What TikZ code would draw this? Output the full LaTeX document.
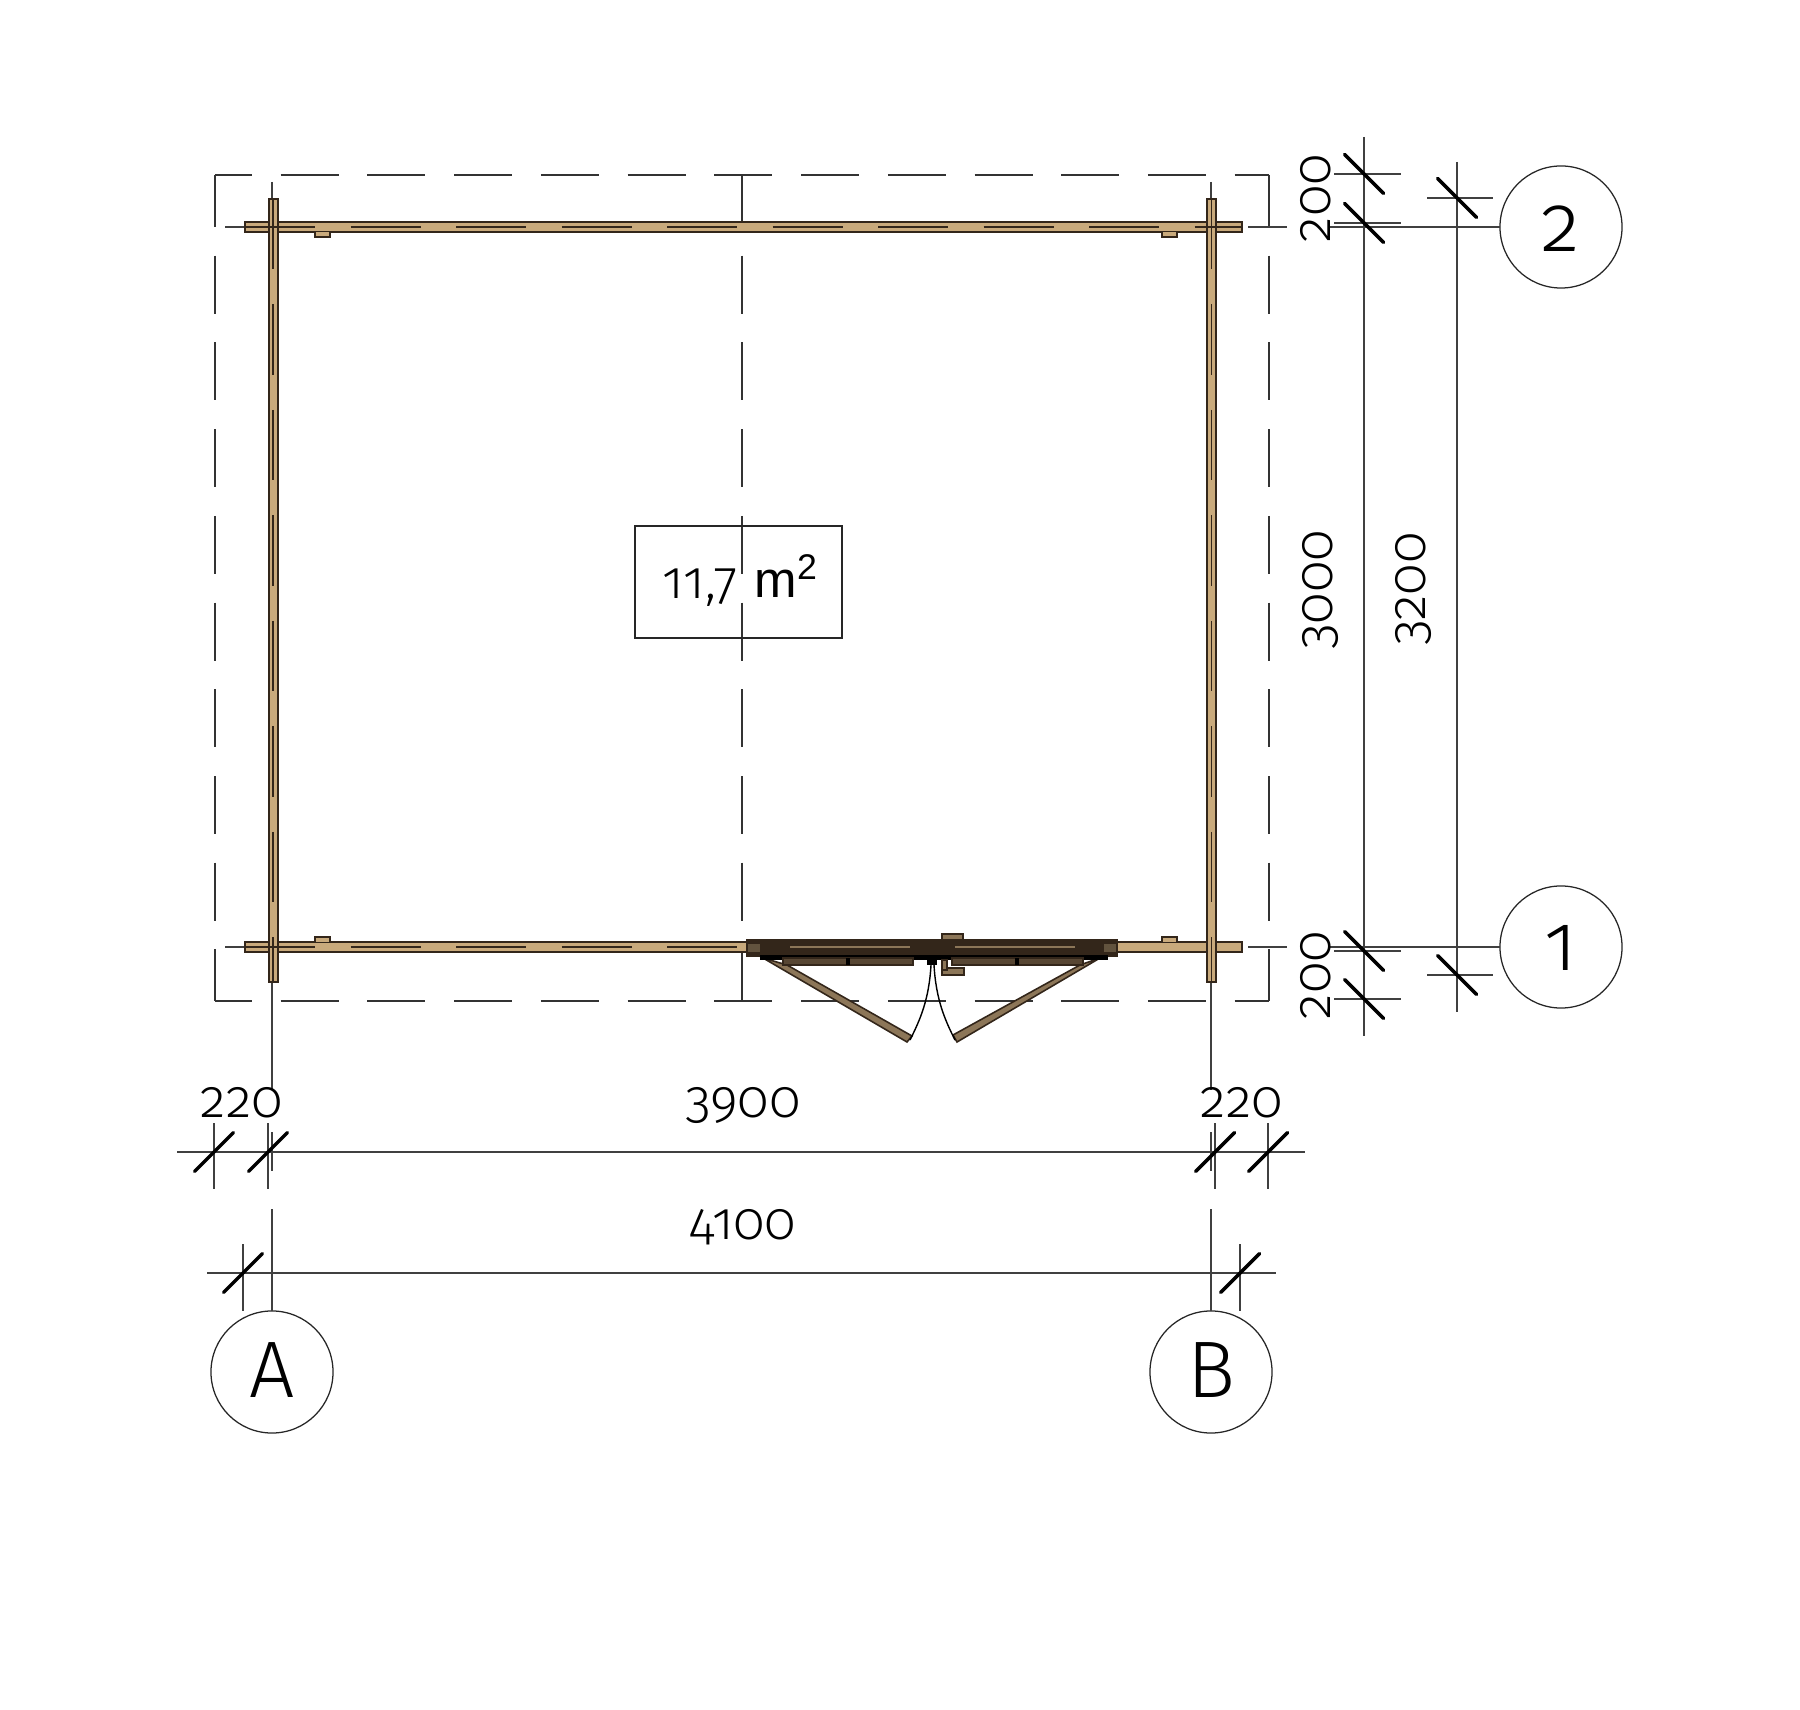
\documentclass[tikz,border=0pt]{standalone}
\usepackage{fontspec}
\usetikzlibrary{positioning,calc}
\newfontfamily\dimfont[Numbers=OldStyle]{Fira Sans Light}
\newfontfamily\areafont{Liberation Sans}
\definecolor{woodlight}{HTML}{C9AA7C}
\definecolor{wooddark}{HTML}{33261A}
\definecolor{woodleaf}{HTML}{8C7658}
\tikzset{dimline/.style={draw=black!75, line width=0.36pt}}
\tikzset{slash/.style={draw=black, line width=1pt, line cap=round}}
\tikzset{outline/.style={draw=black!80, line width=0.65pt}}
\tikzset{overhangh/.style={outline, dash pattern=on 16.5pt off 8.16pt, dash phase=5.97pt}}
\tikzset{overhangv/.style={outline, dash pattern=on 16.5pt off 8.16pt, dash phase=1.71pt}}
\tikzset{gridcircle/.style={circle, draw=black!85, line width=0.36pt, minimum size=1.22cm, inner sep=0, outer sep=0}}
\tikzset{dimlabel/.style={inner sep=0, font=\dimfont\fontsize{15}{15}\selectfont}}
\tikzset{gridlabel/.style={inner sep=0, font=\dimfont\fontsize{22.8}{22.8}\selectfont}}
\tikzset{wall/.style={draw=wooddark, line width=0.45pt, fill=woodlight}}
\tikzset{leaf/.style={draw=wooddark, line width=0.45pt, fill=woodleaf}}
\tikzset{wallcore/.style={draw=wooddark, line width=0.55pt, dash pattern=on 20pt off 10pt}}
\begin{document}
\begin{tikzpicture}[x=0.01cm, y=-0.01cm]
	\useasboundingbox (0,0) rectangle (1800,1710);
	% overhang outline
	\draw[overhangh] (215,175) -- (1269,175);
	\draw[overhangh] (215,1001) -- (1269,1001);
	\foreach \xpos in {215,742,1269}
		\draw[overhangv] (\xpos,175) -- (\xpos,1001);
	% area box
	\node[draw=black!85, line width=0.38pt, minimum width=2.07cm, minimum height=1.12cm, inner sep=0] (areabox) at (738.5,582) {};
	\node[dimlabel, anchor=base west] (areanum) at (662,599) {11,7};
	\node[inner sep=0, anchor=base west, font=\areafont\fontsize{14.5}{15}\selectfont] (areaunit) at (754,598) {m\textsuperscript{2}};
	% grid bubbles
	\node[gridcircle] (grid2) at (1561,227) {};
	\node[gridcircle] (grid1) at (1561,947) {};
	\node[gridcircle] (gridA) at (272,1372) {};
	\node[gridcircle] (gridB) at (1211,1372) {};
	\node[gridlabel, anchor=base] (lab2) at (1561,252) {2};
	\node[gridlabel, anchor=base] (lab1) at (1561,971) {1};
	\node[gridlabel, anchor=base] (labA) at (272,1397) {A};
	\node[gridlabel, anchor=base] (labB) at (1211,1397) {B};
	% grid lines
	\coordinate (end2) at (1328,227);
	\coordinate (end1) at (1328,947);
	\coordinate (endA) at (272,1209);
	\coordinate (endB) at (1211,1209);
	\draw[dimline] (grid2) -- (end2);
	\draw[dimline] (grid1) -- (end1);
	\draw[dimline] (gridA) -- (endA);
	\draw[dimline] (gridB) -- (endB);
	\foreach \xpos in {272,1211} {
		\draw[dimline] (\xpos,182) -- (\xpos,1090);
		\draw[dimline] (\xpos,1132) -- (\xpos,1171);
	}
	\foreach \ypos in {227,947} {
		\draw[dimline] (225,\ypos) -- (245,\ypos);
		\draw[dimline] (1248,\ypos) -- (1287,\ypos);
	}
	% dimension lines, right
	\draw[dimline] (1364,137) -- (1364,1036);
	\draw[dimline] (1457,162) -- (1457,1012);
	\foreach \ypos in {174,223,951,999} {
		\draw[dimline] (1334,\ypos) -- (1401,\ypos);
		\draw[slash] (1344.5,\ypos-19.5) -- (1383.5,\ypos+19.5);
	}
	\foreach \ypos in {198,975} {
		\draw[dimline] (1427,\ypos) -- (1493,\ypos);
		\draw[slash] (1437.5,\ypos-19.5) -- (1476.5,\ypos+19.5);
	}
	% dimension lines, bottom
	\draw[dimline] (177,1152) -- (1305,1152);
	\draw[dimline] (207,1273) -- (1276,1273);
	\foreach \xpos in {214,268,1215,1268} {
		\draw[dimline] (\xpos,1123) -- (\xpos,1189);
		\draw[slash] (\xpos-19.5,1171.5) -- (\xpos+19.5,1132.5);
	}
	\foreach \xpos in {243,1240} {
		\draw[dimline] (\xpos,1244) -- (\xpos,1311);
		\draw[slash] (\xpos-19.5,1292.5) -- (\xpos+19.5,1253.5);
	}
	% dimension texts
	\node[dimlabel] (dimA) at (242,1103) {220};
	\node[dimlabel] (dimB) at (1242,1103) {220};
	\node[dimlabel] (dimC) at (743,1105) {3900};
	\node[dimlabel] (dimD) at (743,1227) {4100};
	\node[dimlabel, rotate=90] (dimE) at (1316,198) {200};
	\node[dimlabel, rotate=90] (dimF) at (1316,975) {200};
	\node[dimlabel, rotate=90] (dimG) at (1320,590) {3000};
	\node[dimlabel, rotate=90] (dimH) at (1413,589) {3200};
	% walls
	\draw[wall] (245,222) rectangle (1242,232);
	\draw[wall] (245,942) rectangle (1242,952);
	\draw[wall] (269,199) rectangle (278,982);
	\draw[wall] (1207,199) rectangle (1216,982);
	\draw[wallcore] (245,227) -- (1242,227);
	\draw[wallcore] (245,947) -- (740,947);
	\draw[wallcore] (273,199) -- (273,982);
	\draw[wallcore] (1211.5,199) -- (1211.5,982);
	\foreach \xpos in {315,1162} {
		\draw[wall] (\xpos,232) -- (\xpos,237) -- (\xpos+15,237) -- (\xpos+15,232);
		\draw[wall] (\xpos,942) -- (\xpos,937) -- (\xpos+15,937) -- (\xpos+15,942);
	}
	% door
	\draw[leaf] (763,958) -- (787,965) -- (912,1036) -- (907,1042) -- cycle;
	\draw[leaf] (1100,958) -- (1080,965) -- (953,1035) -- (957,1042) -- cycle;
	\fill[wooddark] (746,939) rectangle (1118,957);
	\fill[black] (760,955) rectangle (1108,960);
	\fill[woodleaf!70!black] (748,944) rectangle (760,952);
	\fill[woodleaf!70!black] (1104,944) rectangle (1116,952);
	\draw[woodleaf, line width=0.5pt] (790,947) -- (910,947);
	\draw[woodleaf, line width=0.5pt] (955,947) -- (1075,947);
	\draw[leaf, fill=wooddark!60!woodleaf] (783,958) rectangle (913,965);
	\draw[leaf, fill=wooddark!60!woodleaf] (952,958) rectangle (1083,965);
	\fill[black] (846,958) rectangle (850,965);
	\fill[black] (1015,958) rectangle (1019,965);
	\fill[black] (927,955) rectangle (937,965);
	\draw[leaf] (942,934) rectangle (963,940);
	\draw[leaf] (942,968) rectangle (964,975);
	\draw[leaf] (942,960) rectangle (947,970);
	\draw[black, line width=0.4pt] (931,965) .. controls (929,1000) and (920,1020) .. (910,1040);
	\draw[black, line width=0.4pt] (934,965) .. controls (936,1000) and (945,1020) .. (955,1040);
\end{tikzpicture}
\end{document}
